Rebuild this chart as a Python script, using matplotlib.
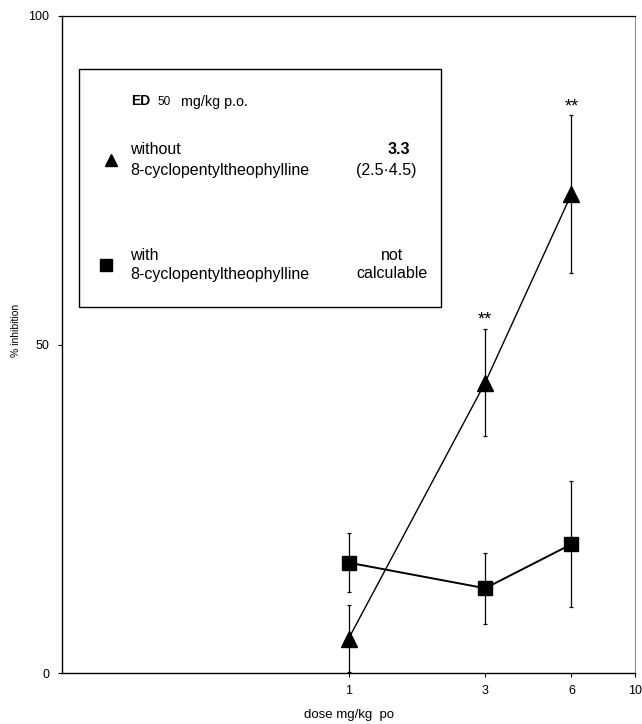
import matplotlib
matplotlib.use("Agg")
import matplotlib.pyplot as plt
from matplotlib.patches import Rectangle

plt.rcParams['font.family'] = ['Liberation Sans', 'DejaVu Sans']

doses = [1, 3, 6]
without_mean = [5.2, 44.2, 72.9]
without_err = [5.1, 8.2, 12.0]
with_mean = [16.8, 12.9, 19.6]
with_err = [4.5, 5.4, 9.6]
x_ticks = [1, 3, 6, 10]
x_ticklabels = ['1', '3', '6', '10']
y_ticks = [0, 50, 100]
sig_labels = ['', '**', '**']

W, H = 642, 724
fig = plt.figure(figsize=(W / 100, H / 100), dpi=100)
ax = fig.add_axes([62 / W, 1 - 673 / H, (635 - 62) / W, (673 - 16) / H])

ax.errorbar(doses, without_mean, yerr=without_err, fmt='-^', color='black',
            markersize=11, linewidth=1.0, elinewidth=0.9, capsize=1.5, capthick=0.9)
ax.errorbar(doses, with_mean, yerr=with_err, fmt='-s', color='black',
            markersize=10, linewidth=1.4, elinewidth=0.9, capsize=1.5, capthick=0.9)

for d, m, e, s in zip(doses, without_mean, without_err, sig_labels):
    if s:
        ax.annotate(s, (d, m + e), xytext=(0, 6), textcoords='offset points',
                    ha='center', va='center', fontsize=13)

ax.set_xscale('log')
ax.set_xlim(0.1, 10)
ax.set_ylim(0, 100)
ax.set_xticks(x_ticks)
ax.set_xticklabels(x_ticklabels)
ax.xaxis.set_minor_locator(matplotlib.ticker.NullLocator())
ax.set_yticks(y_ticks)
ax.tick_params(axis='both', direction='out', length=3, width=0.8, labelsize=9, pad=6)
ax.set_xlabel('dose mg/kg  po', fontsize=9.5, labelpad=8)
ax.set_ylabel('% inhibition', fontsize=7.5)
ax.yaxis.set_label_coords(-0.071, 0.522)

for side in ['left', 'bottom']:
    ax.spines[side].set_linewidth(1.0)
ax.spines['top'].set_linewidth(0.9)
ax.spines['right'].set_linewidth(0.7)
ax.spines['right'].set_color('#888888')

# legend box in pixel coordinates
def P(px, py):
    return px / W, 1 - py / H

x0, y0 = P(79, 307)
x1, y1 = P(441, 69)
fig.patches.append(Rectangle((x0, y0), x1 - x0, y1 - y0, transform=fig.transFigure,
                             fill=False, edgecolor='black', linewidth=1.0))

fs = 11.5
fig.text(*P(131, 101), 'ED', fontsize=10, fontweight='bold', va='center', ha='left')
fig.text(*P(157, 102), '50', fontsize=8.5, va='center', ha='left')
fig.text(*P(181, 102), 'mg/kg p.o.', fontsize=10.3, va='center', ha='left')

fig.lines.append(plt.Line2D([P(111, 160)[0]], [P(111, 160)[1]], marker='^', markersize=9,
                            color='black', transform=fig.transFigure))
fig.text(*P(130, 150), 'without', fontsize=fs, va='center', ha='left')
fig.text(*P(130, 171), '8-cyclopentyltheophylline', fontsize=fs, va='center', ha='left')
fig.text(*P(399, 150), '3.3', fontsize=fs, fontweight='bold', va='center', ha='center')
fig.text(*P(386, 171), '(2.5·4.5)', fontsize=fs, va='center', ha='center')

fig.lines.append(plt.Line2D([P(106, 265)[0]], [P(106, 265)[1]], marker='s', markersize=9,
                            color='black', transform=fig.transFigure))
fig.text(*P(130, 256), 'with', fontsize=fs, va='center', ha='left')
fig.text(*P(130, 274), '8-cyclopentyltheophylline', fontsize=fs, va='center', ha='left')
fig.text(*P(392, 256), 'not', fontsize=fs, va='center', ha='center')
fig.text(*P(392, 274), 'calculable', fontsize=fs, va='center', ha='center')

fig.savefig('out.png', dpi=100)
